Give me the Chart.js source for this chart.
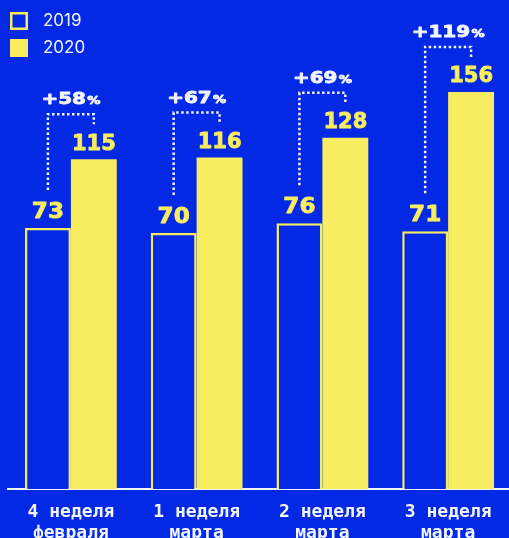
<!DOCTYPE html>
<html>
<head>
<meta charset="utf-8">
<script src="https://cdn.jsdelivr.net/npm/chart.js@4.4.0/dist/chart.umd.min.js"></script>
<style>
html,body{margin:0;padding:0;overflow:hidden;background:#0329E5;}
#wrap{position:absolute;left:0;top:0;width:512px;height:538px;}
</style>
</head>
<body>
<div id="wrap"><canvas id="c" width="512" height="538"></canvas></div>
<script>
const categories = [["4 неделя","февраля"],["1 неделя","марта"],["2 неделя","марта"],["3 неделя","марта"]];
const seriesNames = ["2019","2020"];
const values2019 = [73, 70, 76, 71];
const values2020 = [115, 116, 128, 156];
const growthLabels = ["+58", "+67", "+69", "+119"];

const BLUE = "#0329E5";
const YELLOW = "#F8EC60";
const WHITE = "#F2F4FF";
const AXIS_MIN = -86;
const AXIS_MAX = 212;

// draw heavy, horizontally stretched text centred at cx
function wideText(ctx, parts, cx, y, sx, color) {
  ctx.save();
  ctx.fillStyle = color;
  ctx.strokeStyle = color;
  ctx.lineWidth = 0.8;
  ctx.lineJoin = "round";
  ctx.textAlign = "left";
  ctx.textBaseline = "alphabetic";
  let total = 0;
  const widths = parts.map(p => { ctx.font = p.font; const w = ctx.measureText(p.text).width + (p.gap || 0); total += w; return w; });
  ctx.translate(cx, y);
  ctx.scale(sx, 1);
  let x = -total / 2;
  parts.forEach((p, k) => {
    ctx.font = p.font;
    ctx.fillText(p.text, x, 0);
    ctx.strokeText(p.text, x, 0);
    x += widths[k];
  });
  ctx.restore();
}

const overlay = {
  id: "overlay",
  afterDatasetsDraw(chart) {
    const ctx = chart.ctx;
    const m0 = chart.getDatasetMeta(0).data;
    const m1 = chart.getDatasetMeta(1).data;
    const valFont = "bold 21px 'DejaVu Sans'";
    for (let i = 0; i < categories.length; i++) {
      const a = m0[i], b = m1[i];
      wideText(ctx, [{text: String(values2019[i]), font: valFont}], a.x, a.y - 10, 1.1, YELLOW);
      wideText(ctx, [{text: String(values2020[i]), font: valFont}], b.x, b.y - 9.5, 1.0, YELLOW);
    }
    ctx.save();
    ctx.strokeStyle = WHITE;
    ctx.lineWidth = 2.5;
    ctx.setLineDash([2.5, 2.5]);
    for (let i = 0; i < categories.length; i++) {
      const a = m0[i], b = m1[i];
      const hy = b.y - 45;
      const leftBottom = a.y - 38;
      ctx.beginPath();
      ctx.moveTo(a.x, leftBottom);
      ctx.lineTo(a.x, hy);
      ctx.lineTo(b.x, hy);
      ctx.lineTo(b.x, hy + 10);
      ctx.stroke();
    }
    ctx.restore();
    for (let i = 0; i < categories.length; i++) {
      const a = m0[i], b = m1[i];
      const hy = b.y - 45;
      const cx = (a.x + b.x) / 2;
      wideText(ctx, [
        {text: growthLabels[i], font: "bold 16px 'DejaVu Sans'", gap: 1},
        {text: "%", font: "bold 10.5px 'DejaVu Sans'"}
      ], cx, hy - 10, 1.25, WHITE);
    }
  },
  afterDraw(chart) {
    const ctx = chart.ctx;
    ctx.save();
    ctx.strokeStyle = YELLOW;
    ctx.lineWidth = 2.5;
    ctx.strokeRect(11.25, 13.25, 15.5, 15.5);
    ctx.fillStyle = YELLOW;
    ctx.fillRect(10, 39, 18, 18);
    ctx.fillStyle = WHITE;
    ctx.font = "17px Inter";
    ctx.textBaseline = "middle";
    ctx.textAlign = "left";
    ctx.fillText(seriesNames[0], 43, 21);
    ctx.fillText(seriesNames[1], 43, 48);
    ctx.restore();
  }
};

new Chart(document.getElementById("c"), {
  type: "bar",
  data: {
    labels: categories,
    datasets: [
      {
        label: seriesNames[0],
        data: values2019,
        base: AXIS_MIN,
        backgroundColor: BLUE,
        borderColor: YELLOW,
        borderWidth: 2.5,
        borderSkipped: "start",
        categoryPercentage: 0.73,
        barPercentage: 1.0
      },
      {
        label: seriesNames[1],
        data: values2020,
        base: AXIS_MIN,
        backgroundColor: YELLOW,
        borderColor: YELLOW,
        borderWidth: 0,
        categoryPercentage: 0.73,
        barPercentage: 1.0
      }
    ]
  },
  options: {
    responsive: false,
    animation: false,
    layout: { padding: { left: 8, right: 1, top: 0, bottom: 0 } },
    plugins: { legend: { display: false }, tooltip: { enabled: false } },
    scales: {
      x: {
        grid: { display: false, drawTicks: false },
        border: { display: true, color: WHITE, width: 2 },
        ticks: {
          color: WHITE,
          font: { family: "'DejaVu Sans Mono'", size: 18, weight: "bold", lineHeight: 1.15 },
          padding: 13,
          maxRotation: 0,
          autoSkip: false
        },
        afterFit(scale) { scale.height = 49; }
      },
      y: {
        display: false,
        min: AXIS_MIN,
        max: AXIS_MAX
      }
    }
  },
  plugins: [overlay]
});
</script>
</body>
</html>
